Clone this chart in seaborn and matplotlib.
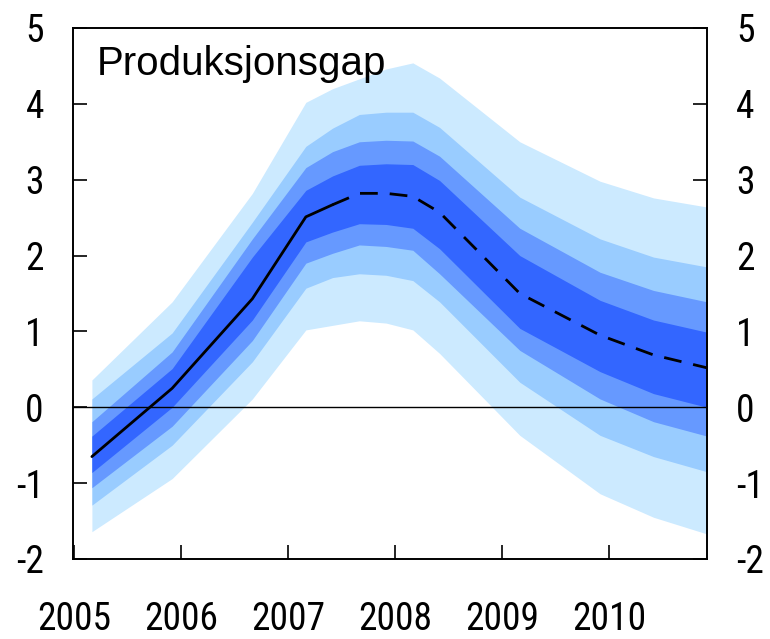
import os
import matplotlib
matplotlib.use("Agg")
import matplotlib.pyplot as plt
from matplotlib import font_manager
from matplotlib.font_manager import FontProperties
import numpy as np
import pandas as pd
import seaborn as sns

# Output gap projection with 30/50/70/90 % uncertainty fans (percent)
quarters = ["2005Q1", "2005Q4", "2006Q3", "2007Q1", "2007Q2", "2007Q3", "2007Q4",
            "2008Q1", "2008Q2", "2009Q1", "2009Q4", "2010Q2", "2010Q4"]
median   = [-0.65, 0.25, 1.43, 2.51, 2.67, 2.82, 2.82, 2.78, 2.57, 1.50, 0.95, 0.69, 0.52]
upper_90 = [0.36, 1.39, 2.82, 4.02, 4.20, 4.33, 4.46, 4.54, 4.34, 3.50, 2.98, 2.76, 2.64]
upper_70 = [0.11, 0.98, 2.44, 3.44, 3.68, 3.86, 3.89, 3.89, 3.69, 2.77, 2.22, 1.98, 1.85]
upper_50 = [-0.19, 0.73, 2.22, 3.16, 3.37, 3.50, 3.52, 3.51, 3.31, 2.36, 1.78, 1.54, 1.39]
upper_30 = [-0.38, 0.51, 1.98, 2.86, 3.05, 3.19, 3.21, 3.20, 2.99, 2.00, 1.41, 1.15, 0.99]
lower_30 = [-0.86, 0.00, 1.15, 2.18, 2.31, 2.42, 2.41, 2.36, 2.09, 1.04, 0.47, 0.18, 0.00]
lower_50 = [-1.06, -0.25, 0.88, 1.90, 2.03, 2.14, 2.12, 2.07, 1.76, 0.75, 0.11, -0.19, -0.38]
lower_70 = [-1.29, -0.50, 0.60, 1.57, 1.71, 1.76, 1.74, 1.67, 1.39, 0.33, -0.37, -0.65, -0.85]
lower_90 = [-1.64, -0.94, 0.11, 1.02, 1.08, 1.14, 1.11, 1.02, 0.71, -0.37, -1.14, -1.45, -1.67]
last_outcome = "2007Q2"

year_ticks = [2005, 2006, 2007, 2008, 2009, 2010]
y_ticks = [-2, -1, 0, 1, 2, 3, 4, 5]
title = "Produksjonsgap"

fan_colors = ["#cceaff", "#99ccff", "#6699ff", "#3366ff"]


def quarter_pos(label):
    year, q = int(label[:4]), int(label[-1])
    return year + (q - 1) / 4 + 1 / 6


def find_narrow_font():
    """Return (path, size) of a condensed sans font for the tick labels."""
    paths = {f.fname for f in font_manager.fontManager.ttflist}
    try:
        paths |= set(font_manager.findSystemFonts())
    except Exception:
        pass
    ranked = []
    for p in paths:
        fn = os.path.basename(p).lower()
        if not ("narrow" in fn or "condensed" in fn):
            continue
        if any(k in fn for k in ("bold", "italic", "oblique", "light", "thin",
                                 "black", "semi", "extra", "medium", "mono")):
            continue
        if "liberationsansnarrow" in fn or "arialnarrow" in fn:
            ranked.append((0, p, 29))
        elif "roboto" in fn or "opensans" in fn or "noto" in fn:
            ranked.append((1, p, 27))
        elif "dejavusanscondensed" in fn:
            ranked.append((2, p, 25))
        else:
            ranked.append((3, p, 26))
    if ranked:
        ranked.sort()
        return ranked[0][1], ranked[0][2]
    return None, 25


df = pd.DataFrame({
    "quarter": quarters,
    "median": median,
    "u90": upper_90, "u70": upper_70, "u50": upper_50, "u30": upper_30,
    "l30": lower_30, "l50": lower_50, "l70": lower_70, "l90": lower_90,
})
df["pos"] = df["quarter"].map(quarter_pos)
split = quarters.index(last_outcome)
hist = df.iloc[: split + 1]
proj = df.iloc[split:]

sns.set_style("white")
names = {f.name for f in font_manager.fontManager.ttflist}
regular = "Liberation Sans" if "Liberation Sans" in names else "DejaVu Sans"
plt.rcParams["font.family"] = [regular, "DejaVu Sans"]

narrow_path, tick_size = find_narrow_font()
if narrow_path:
    tick_fp = FontProperties(fname=narrow_path, size=tick_size)
else:
    tick_fp = FontProperties(family=[regular, "DejaVu Sans"], size=tick_size)

fig = plt.figure(figsize=(7.7, 6.39), dpi=100)
ax = fig.add_axes([0.0948, 0.1252, 0.8234, 0.8310])

bands = [("u90", "l90"), ("u70", "l70"), ("u50", "l50"), ("u30", "l30")]
for (hi, lo), col in zip(bands, fan_colors):
    ax.fill_between(df["pos"], df[lo], df[hi], color=col, lw=0, zorder=1)

ax.axhline(0, color="black", lw=1.0, zorder=2)

sns.lineplot(data=hist, x="pos", y="median", color="black", lw=2.0,
             sort=False, ax=ax, zorder=3)
sns.lineplot(data=proj, x="pos", y="median", color="black", lw=2.0,
             linestyle=(0, (6.4, 4.3)), sort=False, ax=ax, zorder=3)

ax.set_xlim(2004.99, quarter_pos("2010Q4"))
ax.set_ylim(-2, 5)
ax.set_xticks(year_ticks)
ax.set_xticklabels([str(y) for y in year_ticks])
ax.set_yticks(y_ticks)
ax.set_yticklabels([str(v) for v in y_ticks])
ax.set_xlabel("")
ax.set_ylabel("")

for s in ax.spines.values():
    s.set_visible(True)
    s.set_color("black")
    s.set_linewidth(1.4)

ax.tick_params(axis="y", which="both", direction="in", length=10, width=1.2,
               left=True, right=True, labelleft=True, labelright=True,
               pad=21, colors="black")
ax.tick_params(axis="x", which="both", direction="in", length=10, width=1.2,
               bottom=True, top=False, pad=30, colors="black")

for t in ax.xaxis.get_major_ticks() + ax.yaxis.get_major_ticks():
    t.label1.set_fontproperties(tick_fp)
    t.label2.set_fontproperties(tick_fp)

ax.text(0.038, 0.9115, title, transform=ax.transAxes, fontsize=29,
        family=[regular, "DejaVu Sans"], ha="left", va="baseline",
        color="black", zorder=4)

fig.savefig("out.png", dpi=100)
